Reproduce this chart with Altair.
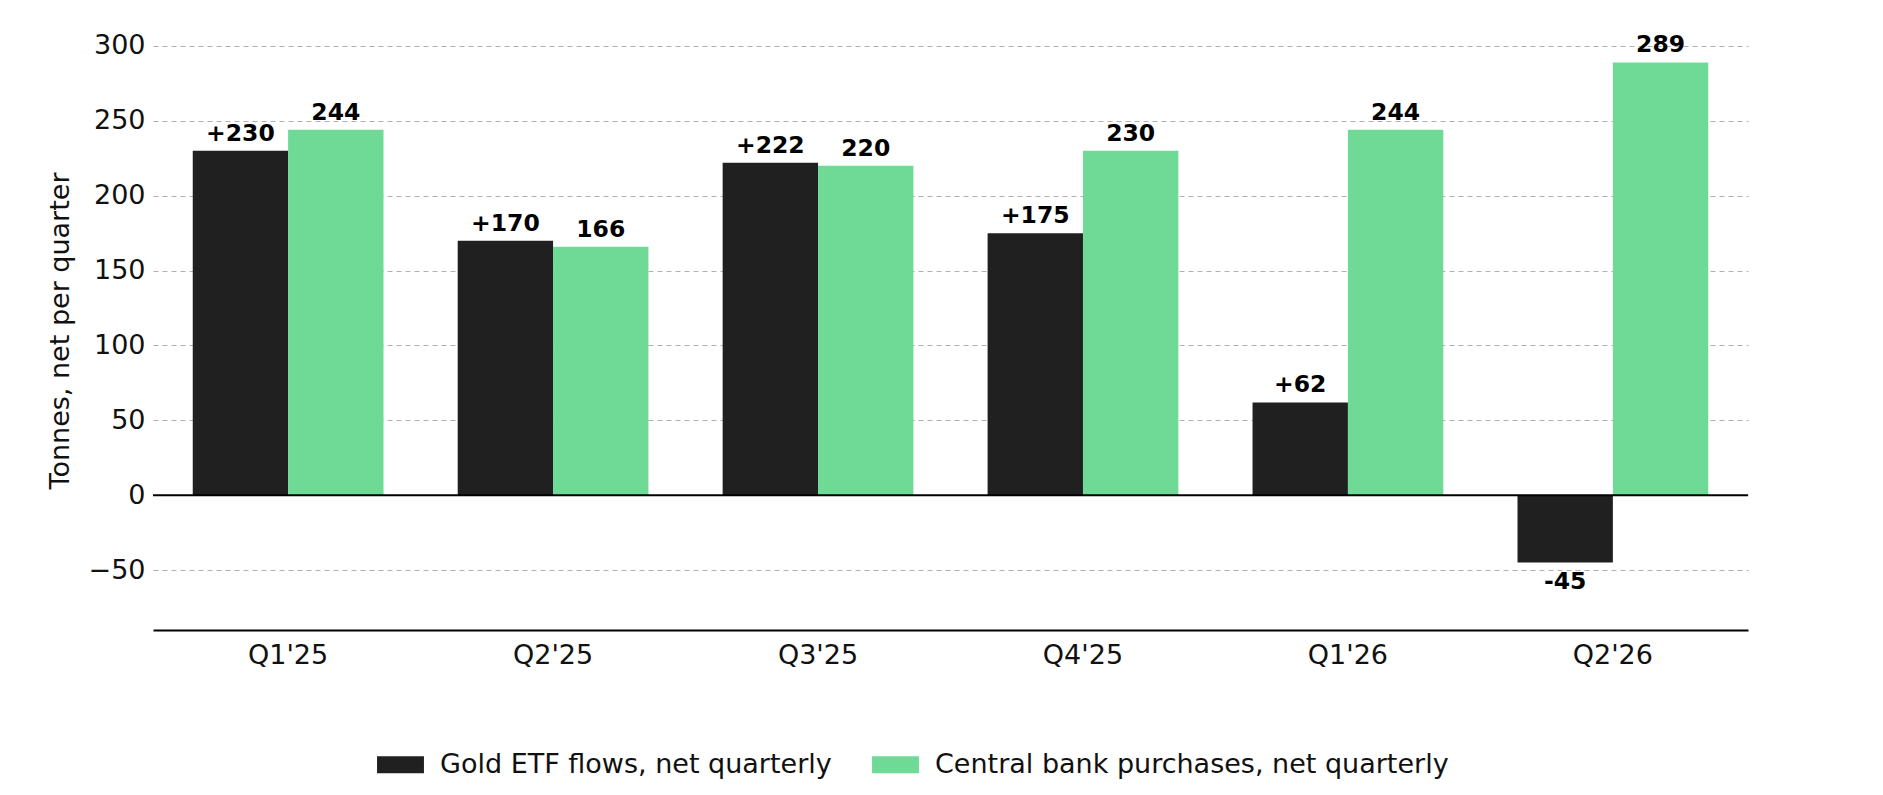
import altair as alt
import pandas as pd

quarters = ["Q1'25", "Q2'25", "Q3'25", "Q4'25", "Q1'26", "Q2'26"]
etf_flows = [230, 170, 222, 175, 62, -45]
cb_purchases = [244, 166, 220, 230, 244, 289]
series = ["Gold ETF flows, net quarterly", "Central bank purchases, net quarterly"]

rows = []
for q, e, c in zip(quarters, etf_flows, cb_purchases):
    rows.append({"quarter": q, "series": series[0], "value": e,
                 "label": f"+{e}" if e > 0 else str(e)})
    rows.append({"quarter": q, "series": series[1], "value": c, "label": str(c)})
df = pd.DataFrame(rows)

FONT = "DejaVu Sans"

x = alt.X("quarter:N", sort=quarters, title=None,
          scale=alt.Scale(paddingInner=0.28, paddingOuter=0.15),
          axis=alt.Axis(labelAngle=0, labelFontSize=27, labelColor="#111", ticks=False,
                        domainColor="black", domainWidth=2, labelPadding=12))
xoff = alt.XOffset("series:N", sort=series)
y = alt.Y("value:Q", title="Tonnes, net per quarter",
          scale=alt.Scale(domain=[-90, 310], nice=False, zero=False),
          axis=alt.Axis(values=[-50, 0, 50, 100, 150, 200, 250, 300], labelFontSize=27,
                        titleFontSize=27, titleFontWeight="normal", labelColor="#111",
                        titleColor="#111", domain=False, ticks=False, gridDash=[5, 4],
                        gridColor="#b0b0b0", gridWidth=1.2, labelPadding=8, titlePadding=14,
                        labelExpr="datum.value < 0 ? '\u2212' + abs(datum.value) : datum.label"))

base = alt.Chart(df).encode(x=x, xOffset=xoff)

bars = base.mark_bar().encode(
    y=y,
    color=alt.Color("series:N", sort=series, title=None,
                    scale=alt.Scale(domain=series, range=["#202020", "#6fd996"]),
                    legend=alt.Legend(orient="none", legendX=224, legendY=710,
                                      direction="horizontal", labelFontSize=27,
                                      labelColor="#111", labelLimit=0,
                                      symbolType="M-1,-0.36H1V0.36H-1Z", symbolSize=2200,
                                      symbolStrokeWidth=0, symbolOpacity=1, columnPadding=40,
                                      labelOffset=16)),
)

pos_labels = base.transform_filter("datum.value >= 0").mark_text(
    baseline="bottom", dy=-5, fontSize=23.5, fontWeight="bold", color="black", font=FONT
).encode(y="value:Q", text="label:N")

neg_labels = base.transform_filter("datum.value < 0").mark_text(
    baseline="top", dy=7, fontSize=23.5, fontWeight="bold", color="black", font=FONT
).encode(y="value:Q", text="label:N")

zero = alt.Chart(pd.DataFrame({"z": [0]})).mark_rule(color="black", strokeWidth=2).encode(y="z:Q")

chart = (bars + zero + pos_labels + neg_labels).properties(
    width=1595, height=599,
    padding={"left": 38, "top": 23, "right": 5, "bottom": 5},
).configure(font=FONT).configure_view(stroke=None).configure_axis(grid=True).configure_axisX(grid=False)

chart.save("out.html", embed_options={"renderer": "svg", "actions": False})
